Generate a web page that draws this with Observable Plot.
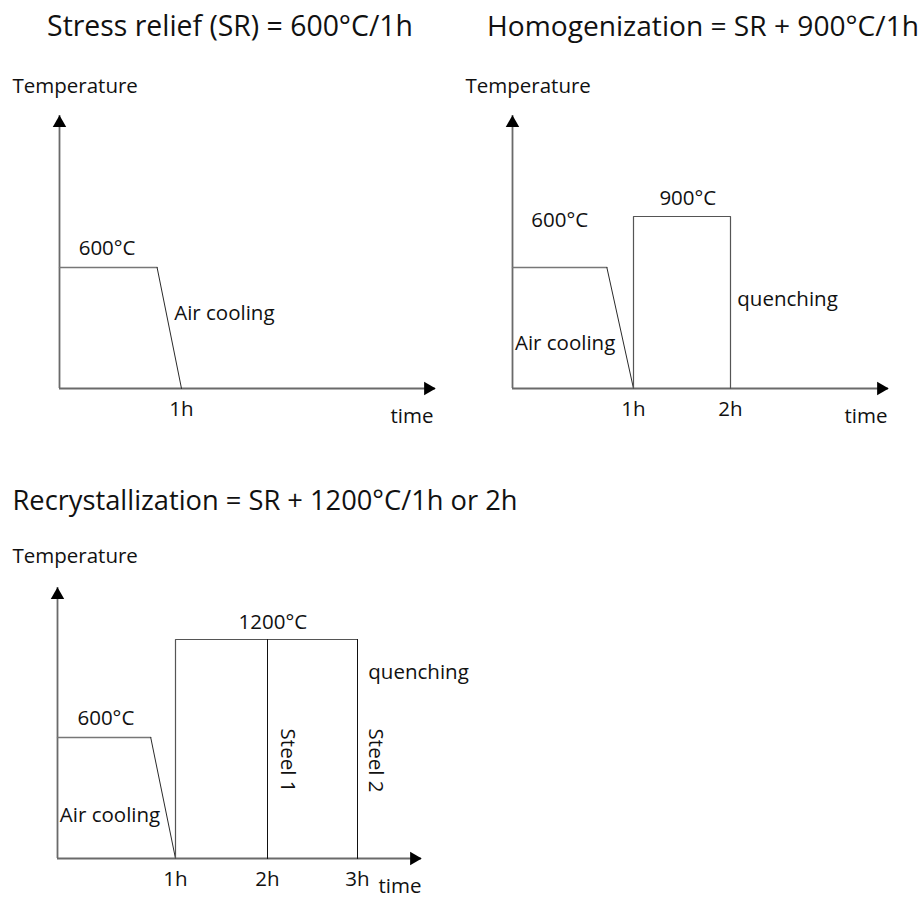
<!DOCTYPE html>
<html><head><meta charset="utf-8">
<script src="https://cdn.jsdelivr.net/npm/d3@7"></script>
<script src="https://cdn.jsdelivr.net/npm/@observablehq/plot@0.6"></script>
<style>
html,body{margin:0;padding:0;background:#fff;}
#fig{position:relative;width:924px;height:899px;font-family:"Open Sans",sans-serif;color:#111;overflow:hidden;}
.title{position:absolute;white-space:nowrap;transform:translate(-50%,-50%);line-height:1;}
.panel{position:absolute;}
</style></head><body><div id="fig"></div>
<script>
// ---------------- data ----------------
const titles = [
  "Stress relief (SR) = 600°C/1h",
  "Homogenization = SR + 900°C/1h",
  "Recrystallization = SR + 1200°C/1h or 2h"
];
const tempKnots = [0, 600, 900, 1200];          // °C (schematic axis)
// Panel 1 : stress relief
const p1Hold = [{t: 0, T: 600}, {t: 0.8, T: 600}];
const p1Cool = [{t: 0.8, T: 600}, {t: 1, T: 0}];
const p1Ticks = [1];
const p1Labels = [
  {text: "600°C", t: 0.39, T: 712, anchor: "middle"},
  {text: "Air cooling", t: 0.94, T: 372, anchor: "start"}
];
// Panel 2 : homogenization
const p2Hold = [{t: 0, T: 600}, {t: 0.78, T: 600}];
const p2Cool = [{t: 0.78, T: 600}, {t: 1, T: 0}];
const p2Soak = [{t: 1, T: 0}, {t: 1, T: 900}, {t: 2, T: 900}, {t: 2, T: 0}];
const p2Ticks = [1, 2];
const p2Labels = [
  {text: "600°C", t: 0.39, T: 876, anchor: "middle"},
  {text: "900°C", t: 1.56, T: 1015, anchor: "middle"},
  {text: "quenching", t: 2.07, T: 441, anchor: "start"},
  {text: "Air cooling", t: 0.02, T: 223, anchor: "start"}
];
// Panel 3 : recrystallization
const p3Hold = [{t: 0, T: 600}, {t: 0.79, T: 600}];
const p3Cool = [{t: 0.79, T: 600}, {t: 1, T: 0}];
const p3Soak = [{t: 1, T: 0}, {t: 1, T: 1200}, {t: 3, T: 1200}];
const p3Quench = [
  {steel: "Steel 1", t: 2, T: 1200}, {steel: "Steel 1", t: 2, T: 0},
  {steel: "Steel 2", t: 3, T: 1200}, {steel: "Steel 2", t: 3, T: 0}
];
const p3Ticks = [1, 2, 3];
const p3Labels = [
  {text: "600°C", t: 0.41, T: 712, anchor: "middle"},
  {text: "1200°C", t: 2.06, T: 1308, anchor: "middle"},
  {text: "quenching", t: 3.12, T: 989, anchor: "start"},
  {text: "Air cooling", t: 0.02, T: 213, anchor: "start"}
];
const p3Steel = [
  {text: "Steel 1", t: 2.22, T: 486},
  {text: "Steel 2", t: 3.2, T: 486}
];

// ---------------- layout / style ----------------
const FONT = "'Open Sans', sans-serif";
const FS = 20.5;
const TXT = "#111";
const tempHeights = [0, 121, 172, 219];   // px above baseline for tempKnots

const panels = [
  {left: 0, top: 0, width: 462, height: 440, mL: 59, mR: 27, mT: 115, mB: 52,
   timeKnots: [0, 1], timeRange: [59, 181], tempDx: -47, tempDy: -37, timeDx: -2,
   title: titles[0], titleX: 230, titleY: 25, titleW: 366,
   hold: p1Hold, cool: p1Cool, soak: null, quench: null, ticks: p1Ticks, labels: p1Labels, steel: null},
  {left: 462, top: 0, width: 462, height: 440, mL: 50, mR: 36, mT: 115, mB: 52,
   timeKnots: [0, 1, 2], timeRange: [50, 171, 268], tempDx: -47, tempDy: -37, timeDx: -1,
   title: titles[1], titleX: 703, titleY: 25, titleW: 432,
   hold: p2Hold, cool: p2Cool, soak: p2Soak, quench: null, ticks: p2Ticks, labels: p2Labels, steel: null},
  {left: 0, top: 440, width: 540, height: 459, mL: 57, mR: 119, mT: 147, mB: 41,
   timeKnots: [0, 1, 2, 3], timeRange: [57, 175, 267, 357], tempDx: -45, tempDy: -39, timeDx: 0,
   title: titles[2], titleX: 265, titleY: 500, titleW: 505,
   hold: p3Hold, cool: p3Cool, soak: p3Soak, quench: p3Quench, ticks: p3Ticks, labels: p3Labels, steel: p3Steel}
];

const fig = document.getElementById("fig");

for (const p of panels) {
  const base = p.height - p.mB;
  const marks = [
    Plot.ruleX([0], {stroke: "#6a6a6a", strokeWidth: 1.8}),
    Plot.ruleY([0], {stroke: "#6a6a6a", strokeWidth: 1.8}),
    Plot.dot([0], {x: d => d, frameAnchor: "top", symbol: "triangle", r: 5, fill: "#000", stroke: "none", dy: 7.5}),
    Plot.dot([0], {y: d => d, frameAnchor: "right", symbol: "triangle", rotate: 90, r: 5, fill: "#000", stroke: "none", dx: -7.5}),
    Plot.line(p.hold, {x: "t", y: "T", stroke: "#777", strokeWidth: 1.4}),
    Plot.line(p.cool, {x: "t", y: "T", stroke: "#2a2a2a", strokeWidth: 1})
  ];
  if (p.soak) marks.push(Plot.line(p.soak, {x: "t", y: "T", stroke: "#555", strokeWidth: 1.2}));
  if (p.quench) marks.push(Plot.line(p.quench, {x: "t", y: "T", z: "steel", stroke: "#111", strokeWidth: 1}));
  marks.push(
    Plot.text(p.labels.filter(d => d.anchor === "middle"), {x: "t", y: "T", text: "text", textAnchor: "middle", fontSize: FS, fontFamily: FONT, fill: TXT}),
    Plot.text(p.labels.filter(d => d.anchor === "start"), {x: "t", y: "T", text: "text", textAnchor: "start", fontSize: FS, fontFamily: FONT, fill: TXT}),
    Plot.text(p.ticks, {x: d => d, frameAnchor: "bottom", text: d => `${d}h`, dy: 27, fontSize: FS, fontFamily: FONT, fill: TXT}),
    Plot.text(["time"], {frameAnchor: "bottom-right", text: d => d, dx: p.timeDx, dy: 34, fontSize: FS, fontFamily: FONT, fill: TXT}),
    Plot.text(["Temperature"], {frameAnchor: "top-left", text: d => d, textAnchor: "start", dx: p.tempDx, dy: p.tempDy, fontSize: FS, fontFamily: FONT, fill: TXT})
  );
  if (p.steel) marks.push(Plot.text(p.steel, {x: "t", y: "T", text: "text", rotate: 90, fontSize: FS, fontFamily: FONT, fill: TXT}));

  const svg = Plot.plot({
    width: p.width, height: p.height,
    marginLeft: p.mL, marginRight: p.mR, marginTop: p.mT, marginBottom: p.mB,
    x: {type: "linear", domain: p.timeKnots, range: p.timeRange},
    y: {type: "linear", domain: tempKnots, range: tempHeights.map(h => base - h)},
    axis: null,
    style: {background: "none", overflow: "visible", fontFamily: FONT},
    marks
  });
  svg.classList.add("panel");
  svg.style.position = "absolute";
  svg.style.left = p.left + "px";
  svg.style.top = p.top + "px";
  fig.appendChild(svg);

  const t = document.createElement("div");
  t.className = "title";
  t.textContent = p.title;
  t.style.left = p.titleX + "px";
  t.style.top = p.titleY + "px";
  t.style.fontSize = "28px";
  fig.appendChild(t);
  // fit the title to the width it has in the reference
  const w = t.getBoundingClientRect().width;
  if (w > 0) t.style.fontSize = (28 * p.titleW / w).toFixed(2) + "px";
}
</script></body></html>
